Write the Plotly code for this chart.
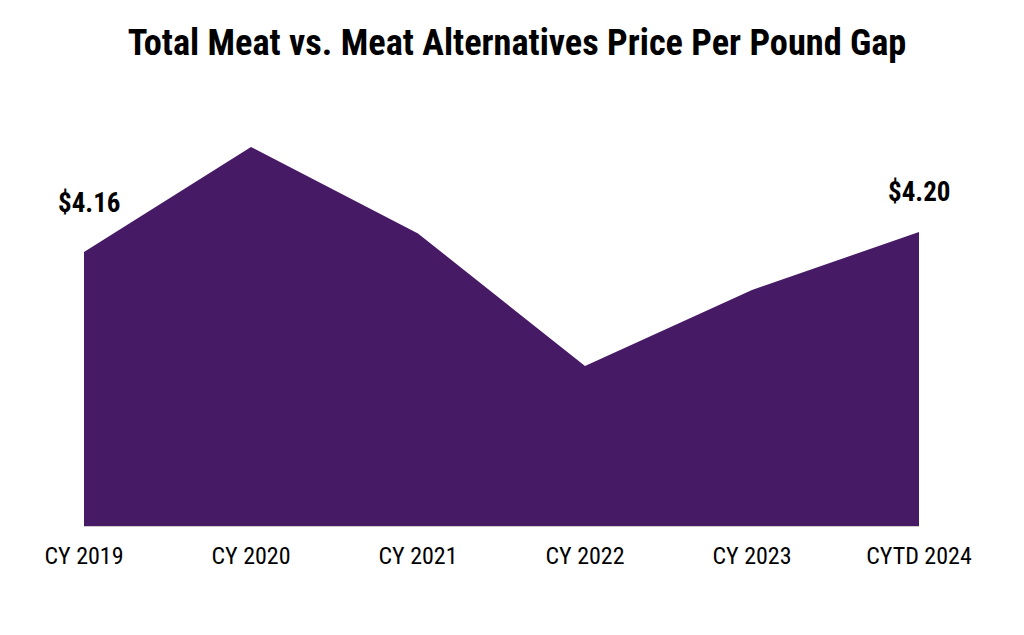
import plotly.graph_objects as go

categories = ["CY 2019", "CY 2020", "CY 2021", "CY 2022", "CY 2023", "CYTD 2024"]
price_gap = [4.16, 4.37, 4.197, 3.932, 4.084, 4.20]
labeled_idx = [0, 5]

FONT = "Roboto Condensed, Liberation Sans Narrow, Arial Narrow, DejaVu Sans Condensed, Roboto, sans-serif"
PURPLE = "#471A66"

fig = go.Figure()
fig.add_trace(go.Scatter(
    x=categories, y=price_gap, mode="lines", fill="tozeroy",
    line=dict(color=PURPLE, width=0), fillcolor=PURPLE, hoverinfo="skip",
))

shifts = {0: (5, 49), 5: (0, 40)}
for i in labeled_idx:
    xs, ys = shifts[i]
    fig.add_annotation(
        x=categories[i], y=price_gap[i], text=f"${price_gap[i]:.2f}",
        showarrow=False, xshift=xs, yshift=ys,
        font=dict(family=FONT, size=27, color="black", weight="bold"),
    )

fig.update_layout(
    width=1016, height=627,
    margin=dict(l=76, r=105, t=92, b=109),
    paper_bgcolor="white", plot_bgcolor="white",
    showlegend=False,
    title=dict(
        text="<b>Total Meat vs. Meat Alternatives Price Per Pound Gap</b>",
        x=0.501, xanchor="center", y=0.946, yanchor="middle",
        font=dict(family=FONT, size=36.3, color="black"),
    ),
    xaxis=dict(
        type="category", range=[0, 5], showgrid=False, zeroline=False,
        showline=True, linecolor="#cccccc", linewidth=1,
        ticks="", ticklabelstandoff=8,
        tickfont=dict(family=FONT, size=24, color="black"),
    ),
    yaxis=dict(
        range=[3.612, 4.464], visible=False, showgrid=False, zeroline=False,
    ),
)

fig.write_html("out.html")
